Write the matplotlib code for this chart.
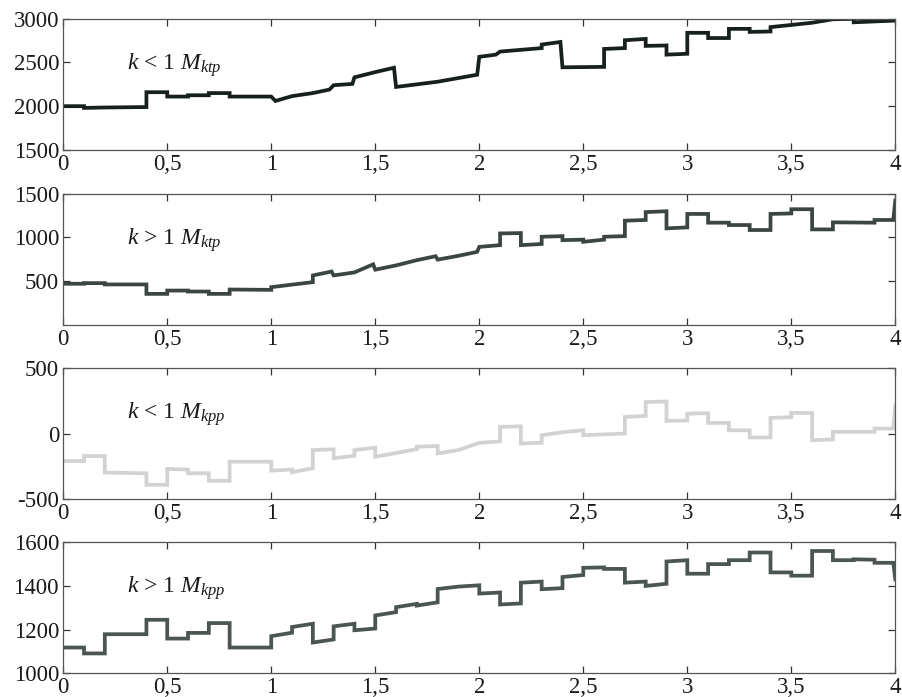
import matplotlib
matplotlib.use("Agg")
import matplotlib.pyplot as plt
from matplotlib.ticker import FixedLocator, FuncFormatter

plt.rcParams['font.family'] = ['Liberation Serif', 'DejaVu Serif']
plt.rcParams['mathtext.fontset'] = 'custom'
plt.rcParams['mathtext.rm'] = 'Liberation Serif'
plt.rcParams['mathtext.it'] = 'Liberation Serif:italic'
plt.rcParams['axes.unicode_minus'] = False

# ---- data (time in s) ----
t1 = [0, 0.1, 0.1, 0.2, 0.4, 0.4, 0.5, 0.5, 0.6, 0.6, 0.7, 0.7, 0.8, 0.8, 1.0, 1.02,
      1.1, 1.2, 1.28, 1.3, 1.39, 1.4, 1.5, 1.59, 1.6, 1.8, 1.99, 2.0, 2.08, 2.1, 2.3,
      2.3, 2.39, 2.4, 2.6, 2.6, 2.7, 2.7, 2.8, 2.8, 2.9, 2.9, 3.0, 3.0, 3.1, 3.1, 3.2,
      3.2, 3.3, 3.3, 3.4, 3.4, 3.5, 3.6, 3.7, 3.8, 3.8, 4.0]
v1 = [2000, 2000, 1980, 1985, 1990, 2160, 2160, 2110, 2110, 2125, 2125, 2150, 2150, 2110, 2110, 2060,
      2115, 2150, 2190, 2240, 2255, 2330, 2390, 2440, 2220, 2280, 2360, 2565, 2590, 2625, 2665,
      2705, 2735, 2445, 2450, 2655, 2665, 2755, 2770, 2690, 2695, 2590, 2600, 2840, 2840, 2780, 2780,
      2885, 2885, 2850, 2855, 2905, 2930, 2955, 2995, 3000, 2960, 2980]

t2 = [0, 0.1, 0.1, 0.2, 0.2, 0.4, 0.4, 0.5, 0.5, 0.6, 0.6, 0.7, 0.7, 0.8, 0.8, 1.0, 1.0,
      1.1, 1.2, 1.2, 1.29, 1.3, 1.4, 1.49, 1.5, 1.6, 1.7, 1.79, 1.8, 1.9, 1.99, 2.0, 2.1,
      2.1, 2.2, 2.2, 2.3, 2.3, 2.4, 2.4, 2.5, 2.5, 2.6, 2.6, 2.7, 2.7, 2.8, 2.8, 2.9, 2.9,
      3.0, 3.0, 3.1, 3.1, 3.2, 3.2, 3.3, 3.3, 3.4, 3.4, 3.5, 3.5, 3.6, 3.6, 3.7, 3.7, 3.9,
      3.9, 3.99, 4.0]
v2 = [470, 470, 477, 477, 462, 462, 354, 354, 392, 392, 381, 381, 354, 354, 404, 400, 431,
      460, 488, 565, 610, 565, 600, 692, 631, 680, 740, 785, 746, 790, 835, 892, 912,
      1046, 1050, 912, 925, 1008, 1015, 969, 975, 950, 975, 1008, 1015, 1192, 1200, 1290, 1300, 1104,
      1115, 1269, 1269, 1169, 1169, 1142, 1142, 1085, 1085, 1269, 1275, 1323, 1323, 1092, 1092, 1173, 1169,
      1200, 1200, 1423]

t3 = [0, 0.1, 0.1, 0.2, 0.2, 0.4, 0.4, 0.5, 0.5, 0.6, 0.6, 0.7, 0.7, 0.8, 0.8, 1.0, 1.0,
      1.1, 1.1, 1.2, 1.2, 1.3, 1.3, 1.4, 1.4, 1.5, 1.5, 1.7, 1.7, 1.8, 1.8, 1.9, 2.0, 2.1,
      2.1, 2.2, 2.2, 2.3, 2.3, 2.4, 2.5, 2.5, 2.7, 2.7, 2.8, 2.8, 2.9, 2.9, 3.0, 3.0, 3.1,
      3.1, 3.2, 3.2, 3.3, 3.3, 3.4, 3.4, 3.5, 3.5, 3.6, 3.6, 3.7, 3.7, 3.9, 3.9, 3.99, 4.0]
v3 = [-210, -210, -172, -172, -298, -303, -391, -391, -270, -275, -303, -303, -361, -361, -215, -215, -283,
      -275, -295, -265, -126, -120, -189, -170, -126, -108, -177, -119, -101, -95, -152, -126, -71, -60,
      51, 55, -76, -70, -13, 10, 25, -13, 0, 126, 135, 240, 245, 96, 100, 152, 155,
      81, 81, 25, 25, -30, -30, 119, 125, 157, 157, -51, -45, 13, 13, 38, 38, 215]

t4 = [0, 0.1, 0.1, 0.2, 0.2, 0.4, 0.4, 0.5, 0.5, 0.6, 0.6, 0.7, 0.7, 0.8, 0.8, 1.0, 1.0,
      1.1, 1.1, 1.2, 1.2, 1.3, 1.3, 1.4, 1.4, 1.5, 1.5, 1.6, 1.6, 1.7, 1.7, 1.8, 1.8, 1.9,
      2.0, 2.0, 2.1, 2.1, 2.2, 2.2, 2.3, 2.3, 2.4, 2.4, 2.5, 2.5, 2.6, 2.6, 2.7, 2.7, 2.8,
      2.8, 2.9, 2.9, 3.0, 3.0, 3.1, 3.1, 3.2, 3.2, 3.3, 3.3, 3.4, 3.4, 3.5, 3.5, 3.6, 3.6,
      3.7, 3.7, 3.8, 3.8, 3.9, 3.9, 3.99, 4.0]
v4 = [1118, 1118, 1091, 1091, 1179, 1179, 1245, 1245, 1159, 1159, 1185, 1185, 1230, 1230, 1118, 1118, 1170,
      1186, 1212, 1227, 1141, 1155, 1215, 1227, 1197, 1205, 1265, 1280, 1303, 1318, 1310, 1325, 1386, 1397,
      1403, 1365, 1370, 1315, 1320, 1415, 1420, 1385, 1390, 1441, 1450, 1483, 1485, 1478, 1478, 1415, 1420,
      1400, 1410, 1512, 1518, 1456, 1456, 1500, 1500, 1518, 1518, 1553, 1553, 1462, 1462, 1447, 1447, 1560,
      1560, 1518, 1518, 1522, 1520, 1506, 1506, 1430]

labels = [r'$k$ < 1 $M_{ktp}$', r'$k$ > 1 $M_{ktp}$', r'$k$ < 1 $M_{kpp}$', r'$k$ > 1 $M_{kpp}$']
ylims = [(1500, 3000), (0, 1500), (-500, 500), (1000, 1600)]
yticks = [[1500, 2000, 2500, 3000], [500, 1000, 1500], [-500, 0, 500], [1000, 1200, 1400, 1600]]
xticks = [0, 0.5, 1, 1.5, 2, 2.5, 3, 3.5, 4]
colors = ['#17201d', '#3b4644', '#d2d2d2', '#4b5553']
series = [(t1, v1), (t2, v2), (t3, v3), (t4, v4)]

fig = plt.figure(figsize=(9.03, 6.97), dpi=100)
left, width = 0.0700, 0.9215
bottoms = [0.785, 0.534, 0.284, 0.034]
height = 0.188

fmt = FuncFormatter(lambda x, p: ('%g' % x).replace('.', ','))

for i in range(4):
    ax = fig.add_axes([left, bottoms[i], width, height])
    t, v = series[i]
    ax.plot(t, v, color=colors[i], lw=2.7, solid_joinstyle='miter')
    ax.set_xlim(0, 4)
    ax.set_ylim(*ylims[i])
    ax.xaxis.set_major_locator(FixedLocator(xticks))
    ax.xaxis.set_major_formatter(fmt)
    ax.yaxis.set_major_locator(FixedLocator(yticks[i]))
    ax.tick_params(direction='in', top=True, right=True, length=5, width=0.9,
                   labelsize=16.5, pad=3, colors='#333333', labelcolor='#1a1a1a')
    for s in ax.spines.values():
        s.set_color('#555555')
        s.set_linewidth(0.9)
    ax.text(0.0766, 0.65, labels[i], transform=ax.transAxes, fontsize=17,
            va='center', ha='left', color='#1a1a1a')

fig.savefig('out.png', dpi=100)
